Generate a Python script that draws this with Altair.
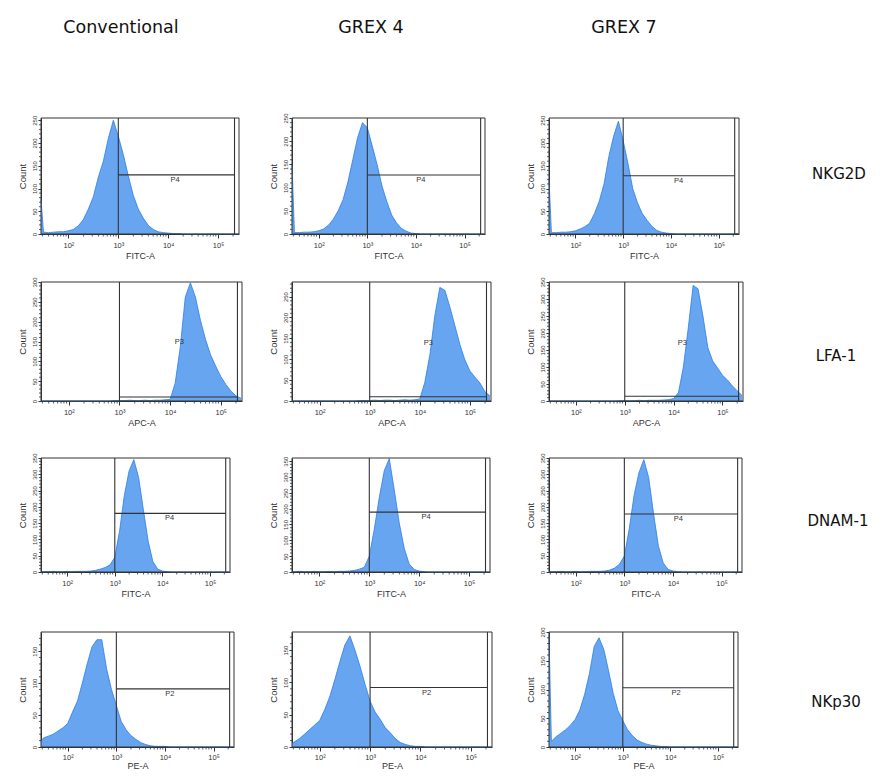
import math
import altair as alt
import pandas as pd

# ---------------- data ----------------
# bin centres, log10 of fluorescence intensity
EXP = [1.45, 1.5, 1.6, 1.7, 1.8, 1.9, 2.0, 2.1, 2.2, 2.3, 2.4, 2.5, 2.6, 2.7, 2.8, 2.9,
       3.0, 3.1, 3.2, 3.3, 3.4, 3.5, 3.6, 3.7, 3.8, 3.9, 4.0, 4.1, 4.2, 4.3, 4.4, 4.5,
       4.6, 4.7, 4.8, 4.9, 5.0, 5.1, 5.2, 5.3, 5.4]

NKG2D_CONV = [76, 4, 3, 4, 5, 5, 7, 10, 18, 32, 55, 82, 125, 160, 210, 250,
              215, 175, 128, 85, 55, 35, 19, 10, 5, 3, 2, 1, 1, 0, 0, 0,
              0, 0, 0, 0, 0, 0, 0, 0, 0]
NKG2D_G4 = [150, 3, 3, 4, 4, 5, 7, 11, 19, 32, 50, 74, 112, 160, 208, 240,
            229, 190, 150, 104, 70, 41, 24, 12, 6, 2, 1, 0, 0, 0, 0, 0,
            0, 0, 0, 0, 0, 0, 0, 0, 0]
NKG2D_G7 = [121, 3, 3, 4, 4, 5, 7, 11, 16, 24, 45, 72, 110, 170, 215, 248,
            205, 155, 100, 68, 45, 30, 17, 8, 4, 2, 1, 0, 0, 0, 0, 0,
            0, 0, 0, 0, 0, 0, 0, 0, 1]

LFA1_CONV = [0, 0, 0, 0, 0, 0, 0, 0, 0, 0, 0, 0, 0, 0, 0, 1,
             1, 1, 2, 1, 1, 2, 1, 2, 2, 3, 4, 45, 135, 262, 298, 262,
             203, 155, 116, 88, 62, 42, 25, 13, 7]
LFA1_G4 = [0, 0, 0, 0, 0, 0, 0, 0, 0, 0, 0, 0, 0, 0, 1, 1,
           1, 2, 1, 2, 2, 1, 2, 3, 2, 3, 5, 45, 110, 205, 272, 265,
           225, 180, 135, 98, 72, 57, 43, 22, 12]
LFA1_G7 = [0, 0, 0, 0, 0, 0, 0, 0, 0, 0, 0, 0, 0, 0, 0, 1,
           1, 1, 1, 2, 1, 2, 2, 2, 3, 4, 7, 25, 100, 215, 340, 330,
           250, 157, 118, 97, 76, 62, 45, 30, 16]

DNAM1_CONV = [2, 1, 1, 2, 1, 1, 2, 1, 2, 2, 2, 3, 5, 9, 14, 22,
              45, 125, 235, 310, 345, 290, 192, 95, 32, 9, 3, 1, 0, 0, 0, 0,
              0, 0, 0, 0, 0, 0, 0, 0, 0]
DNAM1_G4 = [1, 1, 2, 1, 1, 2, 1, 1, 2, 1, 2, 2, 3, 5, 9, 15,
            50, 135, 235, 320, 358, 260, 155, 75, 25, 8, 3, 1, 0, 0, 0, 0,
            0, 0, 0, 0, 0, 0, 0, 0, 0]
DNAM1_G7 = [1, 1, 1, 2, 1, 1, 2, 1, 1, 2, 2, 2, 3, 6, 12, 24,
            49, 132, 235, 305, 345, 290, 180, 80, 28, 8, 3, 1, 0, 0, 0, 0,
            0, 0, 0, 0, 0, 0, 0, 0, 0]

NKP30_CONV = [9, 14, 17, 20, 25, 30, 37, 55, 72, 100, 130, 157, 168, 168, 122, 90,
              65, 40, 27, 18, 12, 7, 4, 2, 1, 1, 1, 0, 0, 0, 0, 0,
              0, 0, 0, 0, 0, 0, 0, 0, 0]
NKP30_G4 = [6, 8, 13, 20, 27, 34, 41, 58, 78, 104, 132, 158, 172, 150, 125, 97,
            71, 54, 43, 30, 22, 13, 7, 4, 2, 1, 1, 0, 0, 0, 0, 0,
            0, 0, 0, 0, 0, 0, 0, 0, 0]
NKP30_G7 = [195, 10, 18, 24, 30, 38, 48, 65, 92, 128, 175, 190, 170, 133, 93, 63,
            46, 30, 20, 12, 8, 5, 3, 2, 1, 1, 0, 0, 0, 0, 0, 0,
            0, 0, 0, 0, 0, 0, 0, 0, 0]

COLUMNS = ["Conventional", "GREX 4", "GREX 7"]
MARKERS = ["NKG2D", "LFA-1", "DNAM-1", "NKp30"]
X_TITLES = ["FITC-A", "APC-A", "FITC-A", "PE-A"]
GATE_NAMES = ["P4", "P3", "P4", "P2"]
SERIES = [[NKG2D_CONV, NKG2D_G4, NKG2D_G7],
          [LFA1_CONV, LFA1_G4, LFA1_G7],
          [DNAM1_CONV, DNAM1_G4, DNAM1_G7],
          [NKP30_CONV, NKP30_G4, NKP30_G7]]
Y_MAX = [[255, 250, 255], [300, 285, 350], [350, 360, 350], [180, 178, 200]]
GATE_Y = [[130, 127, 128], [10, 10, 14], [180, 189, 178], [91, 92, 103]]
GATE_START = 3.0
GATE_END = 5.33
GATE_LABEL = [[(4.14, 130), (4.1, 127), (4.16, 128)],
              [(4.18, 149), (4.17, 140), (4.18, 172)],
              [(4.15, 180), (4.14, 189), (4.11, 178)],
              [(4.1, 91), (4.12, 92), (4.12, 103)]]
LABEL_BELOW = [True, False, True, True]
TICK_LABELS = {2: "10²", 3: "10³", 4: "10⁴", 5: "10⁵"}

# ---------------- layout ----------------
X_MIN, X_MAX = 1.45, 5.42
COL_LEFT = [40, 291, 548]
ROW_TOP = [117, 281, 457, 631]
ROW_H = [116, 119, 114, 115]
WIDTHS = [[198, 193, 190], [201, 199, 194], [189, 198, 193], [193, 200, 189]]
HEADER_Y = 27
HEADER_X = [120, 370, 623]
ROW_LABEL = [(838, 173), (835, 355), (837, 520), (835, 701)]

FILL = "#67A5F0"
EDGE = "#2A7DEB"
INK = "#333333"

MINOR_X = [math.log10(k) + n for n in range(1, 6) for k in range(2, 10)
           if X_MIN < math.log10(k) + n < X_MAX]

ONE = pd.DataFrame({"k": [0]})

label_expr = " : ".join(
    f"datum.value == {k} ? '{v}'" for k, v in TICK_LABELS.items()) + " : ''"


def spacer(w, h):
    return alt.Chart(ONE).mark_point(opacity=0, size=0).encode(
        x=alt.value(0), y=alt.value(0)).properties(width=w, height=h)


def text_layer(txt, x, y, size, font="DejaVu Sans", color="#111111"):
    return alt.Chart(ONE).mark_text(
        text=txt, font=font, fontSize=size, color=color, align="center",
        baseline="middle").encode(x=alt.value(x), y=alt.value(y))


def panel(r, c):
    w, h = WIDTHS[r][c], ROW_H[r]
    counts = SERIES[r][c]
    ymax = Y_MAX[r][c]
    xs = alt.Scale(domain=[X_MIN, X_MAX], nice=False, zero=False)
    ys = alt.Scale(domain=[0, ymax], nice=False, zero=True)
    xa = alt.Axis(values=[2, 3, 4, 5], labelExpr=label_expr, title=X_TITLES[r],
                  tickSize=4, labelPadding=3 if r < 3 else 2,
                  titlePadding=3 if r < 3 else 1, labelFontSize=7.5,
                  titleFontSize=9, grid=False, domainColor=INK, tickColor=INK,
                  labelOverlap=False)
    ya = alt.Axis(values=list(range(0, ymax + 1, 50)), labelAngle=270,
                  title="Count", tickSize=3, labelPadding=1, titlePadding=4,
                  labelFontSize=6, titleFontSize=9.5, grid=False, domainColor=INK,
                  tickColor=INK, labelOverlap=False)
    X = lambda f="e:Q": alt.X(f, scale=xs, axis=xa)
    Y = lambda f="c:Q": alt.Y(f, scale=ys, axis=ya)
    df = pd.DataFrame({"e": EXP, "c": counts})
    area = alt.Chart(df).mark_area(
        color=FILL, opacity=1, interpolate="linear",
        line=alt.OverlayMarkDef(color=EDGE, strokeWidth=0.8)).encode(x=X(), y=Y())
    minor_x = alt.Chart(pd.DataFrame({"e": MINOR_X})).mark_rule(
        color=INK, strokeWidth=0.8).encode(
        x=X(), y=alt.value(h), y2=alt.value(h + 2.5))
    minor_y = alt.Chart(pd.DataFrame(
        {"c": [v for v in range(10, ymax, 10) if v % 50]})).mark_rule(
        color=INK, strokeWidth=0.8).encode(
        y=Y(), x=alt.value(-2), x2=alt.value(0))
    vlines = alt.Chart(pd.DataFrame({"e": [GATE_START, GATE_END]})).mark_rule(
        color=INK, strokeWidth=1.1).encode(x=X())
    hline = alt.Chart(pd.DataFrame(
        {"e": [GATE_START], "e2": [GATE_END], "c": [GATE_Y[r][c]]})).mark_rule(
        color=INK, strokeWidth=1.1).encode(x=X(), x2="e2:Q", y=Y())
    gx, gy = GATE_LABEL[r][c]
    glabel = alt.Chart(pd.DataFrame({"e": [gx], "c": [gy]})).mark_text(
        text=GATE_NAMES[r], font="Liberation Sans", fontSize=7.5, color=INK,
        baseline="top" if LABEL_BELOW[r] else "middle",
        dy=1 if LABEL_BELOW[r] else 0).encode(x=X(), y=Y())
    box = alt.Chart(ONE).mark_rect(fillOpacity=0, stroke=INK, strokeWidth=1).encode(
        x=alt.value(0), x2=alt.value(w), y=alt.value(0), y2=alt.value(h))
    layers = [area, minor_x, minor_y, vlines, hline, glabel, box]
    if r == 0:
        layers.append(text_layer(COLUMNS[c], HEADER_X[c] - COL_LEFT[c],
                                 HEADER_Y - ROW_TOP[r], 17.5))
    if c == 2:
        lx, ly = ROW_LABEL[r]
        layers.append(text_layer(MARKERS[r], lx - COL_LEFT[c],
                                 ly - ROW_TOP[r], 15))
    return alt.layer(*layers).properties(width=w, height=h)


col_w = [max(WIDTHS[r][c] for r in range(4)) for c in range(3)]
gap_w = [COL_LEFT[1] - COL_LEFT[0] - col_w[0], COL_LEFT[2] - COL_LEFT[1] - col_w[1]]

items = []
for r in range(4):
    if r > 0:
        g = ROW_TOP[r] - (ROW_TOP[r - 1] + ROW_H[r - 1])
        items += [spacer(1, g) for _ in range(5)]
    items += [panel(r, 0), spacer(gap_w[0], 1), panel(r, 1),
              spacer(gap_w[1], 1), panel(r, 2)]

chart = alt.concat(*items, columns=5, spacing=0, bounds="flush").properties(
    padding={"left": 17, "top": 19, "right": 0, "bottom": 0},
    background="white",
).configure_view(strokeWidth=0).configure_axis(
    labelFont="Liberation Sans", titleFont="Liberation Sans",
    labelColor=INK, titleColor=INK, titleFontWeight="normal")

chart.save("out.html", embed_options={"renderer": "svg", "actions": False})
